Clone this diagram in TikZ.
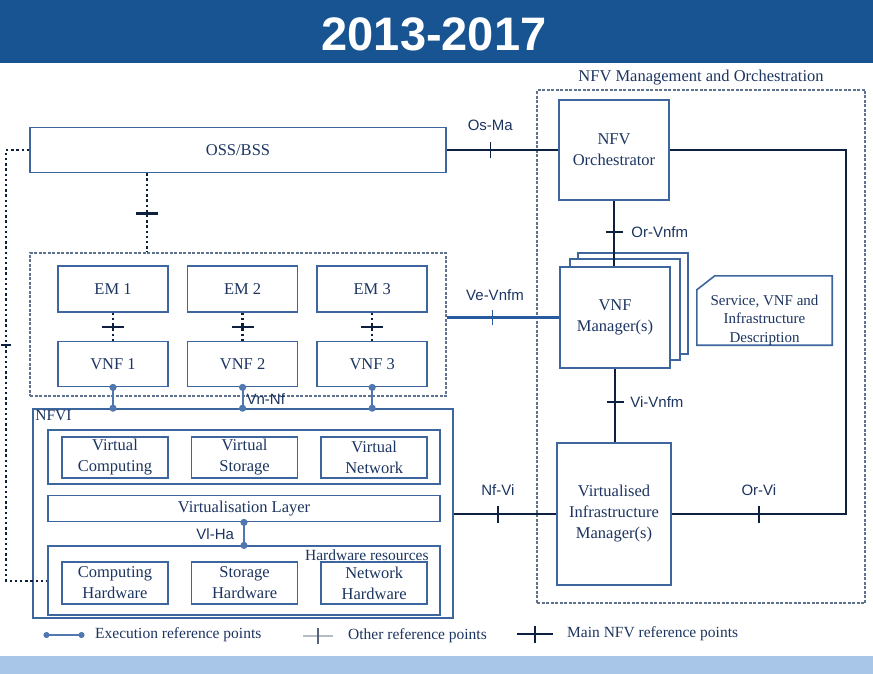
\documentclass[tikz,border=0pt]{standalone}
\usepackage{fontspec}
\setmainfont{Liberation Serif}
\newfontfamily\lblfont{Liberation Sans}
\usepackage{tikz}
\usetikzlibrary{positioning, arrows.meta}
\definecolor{hdrblue}{RGB}{24,84,146}
\definecolor{bandblue}{RGB}{168,198,232}
\definecolor{boxline}{RGB}{62,102,158}
\definecolor{boxtext}{RGB}{28,52,96}
\definecolor{refline}{RGB}{14,32,64}
\definecolor{execline}{RGB}{80,120,175}
\definecolor{veline}{RGB}{40,90,160}
\definecolor{arealine}{RGB}{95,115,145}
\definecolor{lightref}{RGB}{180,188,196}
\newcommand{\tickmain}{\rule{1.5pt}{17pt}}
\newcommand{\tickother}{\rule{2.4pt}{22pt}}
\newcommand{\tickthin}{\rule{1.5pt}{15pt}}

\begin{document}
\begin{tikzpicture}[x=1pt, y=-1pt, node distance=18pt,
	box/.style={draw=boxline, line width=1.6pt, text=boxtext, align=center, inner sep=0pt, font=\fontsize{16.5}{21}\selectfont},
	fnbox/.style={box, minimum width=110pt, minimum height=46pt},
	area/.style={draw=arealine, line width=1.1pt, dash pattern=on 3pt off 1.5pt, inner sep=0pt},
	lbl/.style={text=boxtext, inner sep=2pt, font=\lblfont\fontsize{15}{18}\selectfont},
	lgd/.style={text=boxtext, inner sep=2pt, font=\fontsize{15.5}{18}\selectfont},
	mainref/.style={draw=refline, line width=2.8pt},
	veref/.style={draw=veline, line width=2.2pt},
	otherref/.style={draw=refline, line width=2.4pt, dash pattern=on 2.4pt off 2.8pt},
	execref/.style={draw=execline, line width=2pt, {Circle[length=7pt]}-{Circle[length=7pt]}, shorten <=-3.5pt, shorten >=-3.5pt},
	tick/.style={sloped, inner sep=0pt, text=refline},
	]
			\useasboundingbox (0,0) rectangle (873,674) ;
			\fill[hdrblue] (0,0) rectangle (873,63) ;
			\fill[bandblue] (0,656) rectangle (873,674) ;
			\node[text=white, font=\lblfont\bfseries\fontsize{47}{47}\selectfont] (title) at (434,34) {2013-2017};

			\node[box, minimum width=416pt, minimum height=45pt] (oss) at (238,150) {OSS/BSS};
			\node[area, minimum width=416pt, minimum height=143pt] (vnfarea) at (238,324.5) {};
			\node[fnbox] (em1) at (113,289) {EM 1};
			\node[fnbox, right=of em1] (em2) {EM 2};
			\node[fnbox, right=of em2] (em3) {EM 3};
			\node[fnbox, minimum height=45pt, below=28pt of em1] (vnf1) {VNF 1};
			\node[fnbox, minimum height=45pt, below=28pt of em2] (vnf2) {VNF 2};
			\node[fnbox, minimum height=45pt, below=28pt of em3] (vnf3) {VNF 3};

			\node[draw=boxline, line width=1.6pt, minimum width=420pt, minimum height=209pt, inner sep=0pt] (nfvi) at (243,513.5) {};
			\node[text=boxtext, inner sep=1pt, anchor=north west, font=\fontsize{15.5}{18}\selectfont] (nfvilbl) at ([xshift=2pt, yshift=-1pt]nfvi.north west) {NFVI};
			\node[box, minimum width=392pt, minimum height=54pt] (virtrow) at (244,457) {};
			\node[box, minimum width=106pt, minimum height=41pt] (vcomp) at (115,457.5) {Virtual\\Computing};
			\node[box, minimum width=106pt, minimum height=41pt, right=22pt of vcomp] (vstore) {Virtual\\Storage};
			\node[box, minimum width=106pt, minimum height=41pt, right=22pt of vstore] (vnet) {Virtual\\Network};
			\node[box, minimum width=392pt, minimum height=26pt, below=10pt of virtrow] (virtlayer) {Virtualisation Layer};
			\node[box, minimum width=392pt, minimum height=69pt, below=23pt of virtlayer] (hwres) {};
			\node[text=boxtext, inner sep=2pt, anchor=north east, font=\fontsize{15.5}{18}\selectfont] (hwlbl) at ([xshift=-10pt, yshift=-2pt]hwres.north east) {Hardware resources};
			\node[box, minimum width=106pt, minimum height=42pt] (comphw) at (115,583) {Computing\\Hardware};
			\node[box, minimum width=106pt, minimum height=42pt, right=22pt of comphw] (storehw) {Storage\\Hardware};
			\node[box, minimum width=106pt, minimum height=42pt, right=22pt of storehw] (nethw) {Network\\Hardware};

			\node[area, minimum width=328pt, minimum height=513pt] (mano) at (701,346.5) {};
			\node[text=boxtext, inner sep=2pt, above=2pt of mano, font=\fontsize{16.5}{18}\selectfont] (manolbl) {NFV Management and Orchestration};
			\node[box, minimum width=110pt, minimum height=100pt] (orch) at (614,150) {NFV\\Orchestrator};
			\node[box, fill=white, minimum width=110pt, minimum height=101pt] (vnfmback) at (633,303.5) {};
			\node[box, fill=white, minimum width=110pt, minimum height=101pt] (vnfmmid) at (625,309.5) {};
			\node[box, fill=white, minimum width=110pt, minimum height=101pt] (vnfm) at (615,317.5) {VNF\\Manager(s)};
			\node[box, minimum width=114pt, minimum height=142pt] (vim) at (614,514) {Virtualised\\Infrastructure\\Manager(s)};
			\node[minimum width=135pt, minimum height=69pt, inner sep=0pt] (desc) at (764.5,310.5) {};
			\draw[boxline, line width=1.6pt] ([yshift=-14pt]desc.north west) -- ([xshift=18pt]desc.north west) -- (desc.north east) -- (desc.south east) -- (desc.south west) -- cycle ;
			\node[text=boxtext, align=center, inner sep=0pt, font=\fontsize{15}{18.5}\selectfont] (desctext) at ([yshift=-9.5pt]desc.center) {Service, VNF and\\Infrastructure\\Description};

			\coordinate (ossdrop) at ([xshift=-91pt]oss.south) ;
			\coordinate (orviturn) at (846,514) ;
			\coordinate (railtick) at (6,345) ;

			\draw[otherref] (oss.west) -| (railtick) |- (hwres.west) ;
			\node[inner sep=0pt, text=refline] (railmark) at (railtick) {\rule{10pt}{1.2pt}};
			\draw[otherref] (ossdrop) -- node[tick, pos=0.51] {\tickother} (ossdrop |- vnfarea.north) ;
			\draw[otherref] (em1) -- node[tick] {\tickother} (vnf1) ;
			\draw[otherref] (em2) -- node[tick] {\tickother} (vnf2) ;
			\draw[otherref] (em3) -- node[tick] {\tickother} (vnf3) ;

			\draw[execref] (vnf1) -- (vnf1 |- nfvi.north) ;
			\draw[execref] (vnf2) -- node[lbl, right=1pt, pos=0.55] {Vn-Nf} (vnf2 |- nfvi.north) ;
			\draw[execref] (vnf3) -- (vnf3 |- nfvi.north) ;
			\draw[execref] (virtlayer) -- node[lbl, left=7pt] {Vl-Ha} (hwres) ;

			\draw[mainref] (oss.east) -- node[tick, pos=0.39] {\tickmain} node[lbl, above=16pt, pos=0.39] {Os-Ma} (orch.west) ;
			\draw[mainref] (orch.south) -- node[tick, pos=0.48] {\tickmain} node[lbl, right=14pt, pos=0.48] {Or-Vnfm} (orch.south |- vnfm.north) ;
			\draw[veref] (vnfarea.east |- vnfm.west) -- node[tick, pos=0.41, text=veline] {\tickthin} node[lbl, above=14pt, pos=0.43] {Ve-Vnfm} (vnfm.west) ;
			\draw[mainref] (vnfm.south) -- node[tick, pos=0.45] {\tickmain} node[lbl, right=12pt, pos=0.45] {Vi-Vnfm} (vnfm.south |- vim.north) ;
			\draw[mainref] (nfvi.east |- vim.west) -- node[tick, pos=0.43] {\tickmain} node[lbl, above=15pt, pos=0.43] {Nf-Vi} (vim.west) ;
			\draw[mainref] (orch.east) -| (orviturn) -- node[tick, pos=0.5] {\tickmain} node[lbl, above=15pt, pos=0.5] {Or-Vi} (vim.east) ;

			\node[lgd, anchor=west] (lgexec) at (93,635) {Execution reference points};
			\node[lgd, anchor=west] (lgother) at (346,636) {Other reference points};
			\node[lgd, anchor=west] (lgmain) at (565,634) {Main NFV reference points};
			\draw[execref, line width=1.6pt, {Circle[length=6pt]}-{Circle[length=6pt]}] ([xshift=-46pt]lgexec.west) -- ([xshift=-12pt]lgexec.west) ;
			\draw[lightref, line width=1.5pt] ([xshift=-43pt]lgother.west) -- node[tick, text=refline!70] {\rule{1.2pt}{16pt}} ([xshift=-13pt]lgother.west) ;
			\draw[mainref] ([xshift=-48pt]lgmain.west) -- node[tick] {\tickmain} ([xshift=-12pt]lgmain.west) ;
		\end{tikzpicture}
\end{document}
